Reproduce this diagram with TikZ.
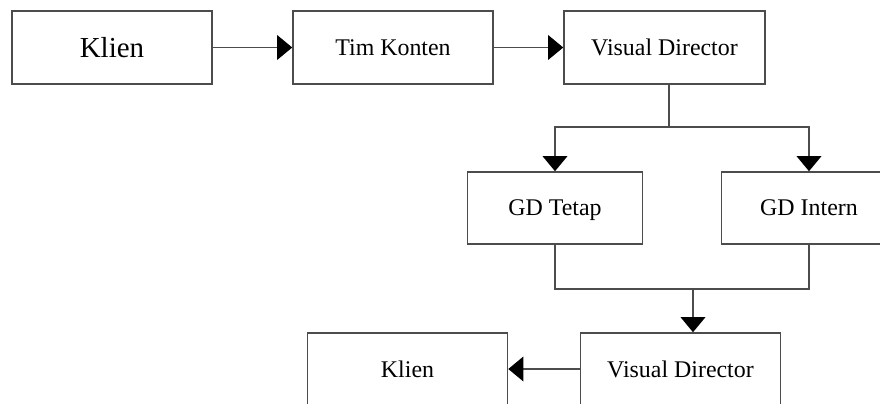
\documentclass[tikz,border=0pt]{standalone}
\usepackage{fontspec}
\setmainfont{Liberation Serif}
\usetikzlibrary{arrows.meta}

\begin{document}
\begin{tikzpicture}[
        box/.style = {draw = black!70, line width = 1.1pt, minimum width = 5cm, minimum height = 1.825cm, inner sep = 0pt, text height = 11.2pt, text depth = 0pt, font = \fontsize{17}{20}\selectfont},
        gdbox/.style = {box, minimum width = 4.375cm, minimum height = 1.8cm},
        link/.style = {draw = black!70, line width = 1.1pt},
        arrow/.style = {link, -{Triangle[length = 0.38cm, width = 0.62cm, color = black]}}
    ]

        \clip (0, 0) rectangle (22, -10.075);

        \node[box, text height = 13.6pt, font = \fontsize{20.6}{24}\selectfont] (klien) at (2.8, -1.1875) {Klien};
        \node[box] (timkonten) at (9.825, -1.1875) {Tim Konten};
        \node[box, minimum width = 5.025cm] (vdtop) at (16.6125, -1.1875) {Visual Director};

        \node[gdbox] (gdtetap) at (13.875, -5.2) {GD Tetap};
        \node[gdbox] (gdintern) at (20.225, -5.2) {GD Intern};

        \node[box] (vdbot) at (17.0125, -9.2375) {Visual Director};
        \node[box] (klienbot) at (10.1875, -9.2375) {Klien};

        \coordinate (split) at (16.725, -3.175);
        \coordinate (join) at (17.325, -7.225);

        \draw[arrow] (klien) -- (timkonten);
        \draw[arrow] (timkonten) -- (vdtop);

        \draw[link] (vdtop.south -| split) -- (split);
        \draw[arrow] (split) -| (gdtetap.north);
        \draw[arrow] (split) -| (gdintern.north);

        \draw[link] (gdtetap.south) |- (join) -| (gdintern.south);
        \draw[arrow] (join) -- (join |- vdbot.north);

        \draw[arrow] (vdbot.west |- 0, -9.225) -- (klienbot.east |- 0, -9.225);

    \end{tikzpicture}
\end{document}
